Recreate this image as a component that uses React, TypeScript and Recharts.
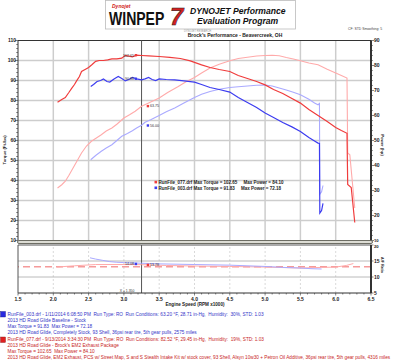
import React from "react";
import { ComposedChart, Line, XAxis, YAxis, ReferenceLine, ReferenceDot } from "recharts";

const RPM_TICKS = [1.5, 2.0, 2.5, 3.0, 3.5, 4.0, 4.5, 5.0, 5.5, 6.0, 6.5];
const TORQUE_TICKS = [10, 20, 30, 40, 50, 60, 70, 80, 90, 100, 110];
const POWER_TICKS = [10, 20, 30, 40, 50, 60, 70, 80, 90];
const AFR_TICKS = [5, 10, 15, 20];
const CURSOR_RPM = 3.25;
const AFR_TARGET = 13.2;

// Run 077 (red) - EM2 exhaust package
const run077Torque = [
  [2.06, 79.1], [2.12, 80.5], [2.17, 81.5], [2.22, 84], [2.26, 86.1], [2.3, 88], [2.33, 89.8], [2.37, 92],
  [2.4, 94.5], [2.45, 95.5], [2.5, 96.5], [2.55, 98], [2.6, 99.6], [2.65, 100], [2.71, 100], [2.77, 100.3],
  [2.83, 100.8], [2.9, 100.8], [2.97, 101.2], [3.02, 102.6], [3.07, 102.2], [3.12, 101.8], [3.18, 102.65],
  [3.25, 102.5], [3.35, 102.3], [3.5, 102], [3.65, 101.6], [3.8, 101], [3.94, 99.8], [4.1, 97.8], [4.22, 96.5],
  [4.35, 95.5], [4.5, 94.5], [4.62, 92.5], [4.75, 91], [4.88, 89.5], [5.0, 87.8], [5.12, 85.5], [5.25, 83.5],
  [5.38, 81], [5.5, 78.7], [5.62, 75.5], [5.75, 72.5], [5.88, 69.5], [6.0, 66.5], [6.08, 65], [6.16, 63.6],
  [6.17, 38], [6.22, 36.5], [6.27, 19],
];
const run077Power = [
  [2.06, 31.0], [2.12, 32.3], [2.17, 33.7], [2.22, 36], [2.28, 39], [2.34, 42], [2.4, 45], [2.47, 47.8],
  [2.54, 49.7], [2.61, 51], [2.68, 52.3], [2.75, 53.8], [2.83, 55], [2.9, 56.5], [3.0, 59], [3.08, 60.3],
  [3.16, 61.7], [3.25, 63.7], [3.35, 65], [3.5, 67], [3.62, 69.2], [3.77, 71.6], [3.88, 73.5], [4.0, 75.2],
  [4.1, 77], [4.22, 79], [4.35, 80.5], [4.5, 81.9], [4.62, 82.8], [4.75, 83.3], [4.88, 83.8], [5.0, 84],
  [5.1, 84.1], [5.2, 83.9], [5.3, 83.2], [5.4, 82.6], [5.5, 81.9], [5.62, 81], [5.75, 80.3], [5.88, 78.5],
  [6.0, 77], [6.08, 76], [6.16, 75], [6.17, 45], [6.2, 44.3], [6.27, 23],
];
// Run 003 (blue) - stock baseline
const run003Torque = [
  [2.53, 87], [2.57, 88], [2.62, 89.5], [2.67, 90], [2.71, 90.8], [2.76, 89.5], [2.8, 89.2], [2.86, 90.8],
  [2.92, 92], [2.97, 91], [3.02, 89.8], [3.07, 90.5], [3.12, 91.5], [3.18, 90.8], [3.25, 90.3], [3.3, 90.8],
  [3.35, 91.5], [3.4, 90.5], [3.45, 90], [3.5, 90.8], [3.6, 90.5], [3.72, 90.3], [3.85, 89.8], [4.0, 89.2],
  [4.1, 88], [4.22, 86.5], [4.35, 85.5], [4.5, 84.2], [4.62, 81.5], [4.75, 79], [4.88, 76.5], [5.0, 73.7],
  [5.12, 71.5], [5.25, 69], [5.38, 66.8], [5.5, 64.5], [5.62, 61.5], [5.7, 59.8], [5.75, 58.7], [5.77, 58.5],
  [5.775, 23.7], [5.8, 25], [5.82, 28.6],
];
const run003Power = [
  [2.53, 42.3], [2.6, 44], [2.68, 45.7], [2.75, 47], [2.83, 48.3], [2.9, 50], [2.97, 51.7], [3.05, 52.8],
  [3.12, 53.9], [3.18, 55], [3.25, 56.1], [3.3, 57.3], [3.38, 58.3], [3.45, 59.3], [3.5, 60], [3.6, 61.5],
  [3.72, 63], [3.85, 65], [4.0, 67.2], [4.1, 68.5], [4.22, 69.6], [4.35, 70.5], [4.5, 71.2], [4.62, 71.5],
  [4.75, 71.8], [4.88, 72.1], [5.0, 72.2], [5.1, 71.8], [5.2, 71], [5.3, 70.2], [5.4, 69.3], [5.5, 68.3],
  [5.62, 66.5], [5.7, 65], [5.75, 64.3], [5.77, 64.8], [5.775, 28.5], [5.8, 29.5], [5.82, 32],
];
const run003Afr = [
  [2.52, 16.0], [2.6, 15.6], [2.7, 15.2], [2.8, 14.8], [2.9, 14.6], [3.0, 14.5], [3.25, 14.3], [3.5, 14.1],
  [4.0, 13.9], [4.5, 13.7], [5.0, 13.3], [5.25, 13.0], [5.5, 12.8], [5.65, 12.6], [5.8, 12.5],
];
const run077Afr = [
  [2.05, 13.1], [2.3, 13.5], [2.6, 13.9], [3.0, 13.9], [3.25, 13.85], [3.6, 13.6], [4.08, 13.4], [4.5, 13.3],
  [5.02, 13.1], [5.5, 12.8], [5.8, 13.0], [6.0, 13.1], [6.15, 13.6], [6.25, 14.2],
];

const MARK_TORQUE_077 = 102.65;
const MARK_TORQUE_003 = 90.88;
const MARK_POWER_077 = 63.75;
const MARK_POWER_003 = 56.0;
const MARK_AFR_003 = 14.08;
const MARK_AFR_077 = 13.78;

const toRows = (arr: number[][]) => arr.map(([rpm, v]) => ({ rpm, v }));

const RED = "#f03c3c";
const PINK = "#ffaaaa";
const BLUE = "#3c3cf0";
const LIGHTBLUE = "#aaaaff";
const GRID = "#cdcdcd";
const FONT = "'Liberation Sans', Arial, sans-serif";

const minorTicks = (lo: number, hi: number, step: number) => {
  const out: number[] = [];
  for (let v = lo; v <= hi + 1e-9; v += step) out.push(Math.round(v * 100) / 100);
  return out;
};

const LeftTick = (props: any) => {
  const { x, y, payload } = props;
  const v = payload.value;
  const major = TORQUE_TICKS.includes(v);
  return (
    <g>
      <line x1={x - (major ? 3 : 1.8)} x2={x} y1={y} y2={y} stroke="#333" strokeWidth={0.6} />
      {major && (
        <text x={x - 2} y={y + (v === 10 ? 1.2 : 1.8)} textAnchor="end" fontSize={5} fontWeight="bold" fill="#222" fontFamily={FONT}>
          {v}
        </text>
      )}
    </g>
  );
};

const RightTick = (props: any) => {
  const { x, y, payload } = props;
  const v = payload.value;
  const major = POWER_TICKS.includes(v);
  return (
    <g>
      <line x1={x} x2={x + (major ? 3 : 1.8)} y1={y} y2={y} stroke="#333" strokeWidth={0.6} />
      {major && (
        <text x={x + 3} y={y + (v === 10 ? 1.0 : 1.8)} textAnchor="start" fontSize={v === 10 ? 4.2 : 5} fontWeight="bold" fill="#222" fontFamily={FONT}>
          {v}
        </text>
      )}
    </g>
  );
};

const AfrTick = (props: any) => {
  const { x, y, payload } = props;
  const v = payload.value;
  return (
    <g>
      <line x1={x} x2={x + 2.5} y1={y} y2={y} stroke="#333" strokeWidth={0.6} />
      <text x={x + 3} y={y + (v === 20 ? 3 : 1.8)} textAnchor="start" fontSize={v === 20 ? 4.2 : 5} fontWeight="bold" fill="#222" fontFamily={FONT}>
        {v}
      </text>
    </g>
  );
};

const BottomTick = (props: any) => {
  const { x, y, payload } = props;
  const v = payload.value;
  const major = RPM_TICKS.some((t) => Math.abs(t - v) < 1e-6);
  return (
    <g>
      <line x1={x} x2={x} y1={y} y2={y + (major ? 2.5 : 1.5)} stroke="#333" strokeWidth={0.6} />
      {major && (
        <text x={x} y={y + 8} textAnchor="middle" fontSize={5} fontWeight="bold" fill="#222" fontFamily={FONT}>
          {v.toFixed(1)}
        </text>
      )}
    </g>
  );
};

const squareMarker = (color: string, label: string, side: "left" | "right") => (p: any) => {
  const { cx, cy } = p;
  return (
    <g>
      <rect x={cx - 1.2} y={cy - 1.2} width={2.4} height={2.4} fill={color} />
      <text
        x={side === "left" ? cx - 2 : cx + 2}
        y={cy + 1.3}
        textAnchor={side === "left" ? "end" : "start"}
        fontSize={3.6}
        fill="#333"
        fontFamily={FONT}
      >
        {label}
      </text>
    </g>
  );
};

const lineProps = { type: "linear" as const, dataKey: "v", dot: false, isAnimationActive: false, activeDot: false };

export default function App() {
  const tqTicks = minorTicks(10, 110, 2);
  const hpTicks = minorTicks(10, 90, 2);
  const rpmMinor = minorTicks(1.5, 6.5, 0.1);
  const blueLines = [
    "RunFile_003.drf - 1/11/2014 6:08:50 PM  Run Type: RO  Run Conditions: 63.20 \u00B0F, 28.71 in-Hg,  Humidity:  30%, STD: 1.03",
    "2013 HD Road Glide Baseline - Stock",
    "Max Torque = 91.83  Max Power = 72.18",
    "2013 HD Road Glide, Completely Stock, 93 Shell, 36psi rear tire, 5th gear pulls, 2575 miles",
  ];
  const redLines = [
    "RunFile_077.drf - 9/13/2014 3:34:30 PM  Run Type: RO  Run Conditions: 82.52 \u00B0F, 29.45 in-Hg,  Humidity:  19%, STD: 1.03",
    "2013 HD Road Glide - Brock's EM2 Exhaust Package",
    "Max Torque = 102.65  Max Power = 84.10",
    "2013 HD Road Glide, EM2 Exhaust, PCS w/ Street Map, S and S Stealth Intake Kit w/ stock cover, 93 Shell, Alsyn 10w30 + Petron Oil Additive, 36psi rear tire, 5th gear pulls, 4316 miles",
  ];
  return (
    <div style={{ position: "absolute", left: 0, top: 0, width: 417, height: 361, background: "#fff", overflow: "hidden" }}>
      {/* Upper panel: torque & power */}
      <div style={{ position: "absolute", left: 0, top: 0 }}>
        <ComposedChart width={417} height={247} margin={{ top: 40.5, right: 0, bottom: 6.5, left: 0 }}>
          <XAxis type="number" dataKey="rpm" domain={[1.5, 6.5]} ticks={RPM_TICKS} hide allowDataOverflow />
          <YAxis
            yAxisId="tq"
            orientation="left"
            width={18}
            type="number"
            domain={[10, 110]}
            ticks={tqTicks}
            interval={0}
            tick={<LeftTick />}
            tickLine={false}
            tickSize={0}
            tickMargin={0}
            axisLine={{ stroke: "#333", strokeWidth: 1 }}
            allowDataOverflow
          />
          <YAxis
            yAxisId="hp"
            orientation="right"
            width={46}
            type="number"
            domain={[10, 90]}
            ticks={hpTicks}
            interval={0}
            tick={<RightTick />}
            tickLine={false}
            tickSize={0}
            tickMargin={0}
            axisLine={{ stroke: "#333", strokeWidth: 2 }}
            allowDataOverflow
          />
          {RPM_TICKS.slice(1, -1).map((t) => (
            <ReferenceLine key={"vx" + t} x={t} yAxisId="tq" stroke={GRID} strokeWidth={1.5} />
          ))}
          {TORQUE_TICKS.slice(1, -1).map((t) => (
            <ReferenceLine key={"hy" + t} y={t} yAxisId="tq" stroke={GRID} strokeWidth={1.5} />
          ))}
          <ReferenceLine y={110} yAxisId="tq" stroke="#333" strokeWidth={1.2} />
          <ReferenceLine x={CURSOR_RPM} yAxisId="tq" stroke="#555" strokeWidth={1} />
          <Line {...lineProps} yAxisId="hp" data={toRows(run077Power)} stroke={PINK} strokeWidth={1.1} />
          <Line {...lineProps} yAxisId="hp" data={toRows(run003Power)} stroke={LIGHTBLUE} strokeWidth={1.1} />
          <Line {...lineProps} yAxisId="tq" data={toRows(run077Torque)} stroke={RED} strokeWidth={1.2} />
          <Line {...lineProps} yAxisId="tq" data={toRows(run003Torque)} stroke={BLUE} strokeWidth={1.2} />
          <ReferenceDot x={3.17} y={MARK_TORQUE_077} yAxisId="tq" shape={squareMarker(RED, MARK_TORQUE_077.toFixed(2), "left")} />
          <ReferenceDot x={3.17} y={MARK_TORQUE_003} yAxisId="tq" shape={squareMarker(BLUE, MARK_TORQUE_003.toFixed(2), "left")} />
          <ReferenceDot x={3.34} y={MARK_POWER_077} yAxisId="hp" shape={squareMarker(RED, MARK_POWER_077.toFixed(2), "right")} />
          <ReferenceDot x={3.34} y={MARK_POWER_003} yAxisId="hp" shape={squareMarker(BLUE, MARK_POWER_003.toFixed(2), "right")} />
        </ComposedChart>
      </div>

      {/* panel divider */}
      <svg width={417} height={361} style={{ position: "absolute", left: 0, top: 0, pointerEvents: "none" }}>
        <rect x={17.5} y={240.5} width={355} height={3} rx={1.5} fill="#dcdcd4" stroke="#5f5f55" strokeWidth={0.9} />
      </svg>

      {/* Lower panel: A/F ratio */}
      <div style={{ position: "absolute", left: 0, top: 0 }}>
        <ComposedChart width={417} height={310} margin={{ top: 245, right: 0, bottom: 0, left: 0 }}>
          <XAxis
            type="number"
            dataKey="rpm"
            domain={[1.5, 6.5]}
            ticks={rpmMinor}
            interval={0}
            height={17}
            tick={<BottomTick />}
            tickLine={false}
            tickSize={0}
            tickMargin={0}
            axisLine={{ stroke: "#333", strokeWidth: 1 }}
            allowDataOverflow
          />
          <YAxis yAxisId="l" orientation="left" width={18} type="number" domain={[5, 20]} tick={false} tickLine={false} axisLine={{ stroke: "#555", strokeWidth: 1 }} />
          <YAxis
            yAxisId="afr"
            orientation="right"
            width={46}
            type="number"
            domain={[5, 20]}
            ticks={AFR_TICKS}
            interval={0}
            tick={<AfrTick />}
            tickLine={false}
            tickSize={0}
            tickMargin={0}
            axisLine={{ stroke: "#333", strokeWidth: 2 }}
            allowDataOverflow
          />
          {RPM_TICKS.slice(1, -1).map((t) => (
            <ReferenceLine key={"lv" + t} x={t} yAxisId="afr" stroke="#cfcfcf" strokeWidth={0.8} strokeDasharray="2 2" />
          ))}
          <ReferenceLine y={15} yAxisId="afr" stroke="#a8a8a8" strokeWidth={0.8} />
          <ReferenceLine y={10} yAxisId="afr" stroke="#a8a8a8" strokeWidth={0.8} />
          <ReferenceLine y={20} yAxisId="afr" stroke="#555" strokeWidth={1} />
          <ReferenceLine y={AFR_TARGET} yAxisId="afr" stroke="#f59a9a" strokeWidth={1.6} strokeDasharray="7 4" />
          <ReferenceLine x={CURSOR_RPM} yAxisId="afr" stroke="#555" strokeWidth={1} />
          <Line {...lineProps} yAxisId="afr" data={toRows(run077Afr)} stroke={PINK} strokeWidth={1} />
          <Line {...lineProps} yAxisId="afr" data={toRows(run003Afr)} stroke={LIGHTBLUE} strokeWidth={1} />
          <ReferenceDot x={3.17} y={MARK_AFR_003} yAxisId="afr" shape={squareMarker(BLUE, MARK_AFR_003.toFixed(2), "left")} />
          <ReferenceDot x={3.34} y={MARK_AFR_077} yAxisId="afr" shape={squareMarker(RED, MARK_AFR_077.toFixed(2), "right")} />
        </ComposedChart>
      </div>

      {/* Text and header */}
      <svg width={417} height={361} style={{ position: "absolute", left: 0, top: 0, pointerEvents: "none" }} fontFamily={FONT}>
        <rect x={105.5} y={0.5} width={190} height={28.5} fill="#fff" stroke="#bbb" strokeWidth={0.8} />
        <text x={112} y={7.5} fontSize={5} fontStyle="italic" fontWeight="bold" fill="#d01818">Dynojet</text>
        <text transform="translate(109,25) scale(0.78,1)" fontSize={18} fontWeight="900" fill="#111">WINPEP</text>
        <text x={170} y={25} fontSize={24} fontWeight="900" fontStyle="italic" fill="#d42020" stroke="#222" strokeWidth={0.5}>7</text>
        <text x={190} y={13.5} fontSize={8.6} fontWeight="bold" fontStyle="italic" fill="#111">DYNOJET Performance</text>
        <text x={197} y={23.5} fontSize={8.6} fontWeight="bold" fontStyle="italic" fill="#111">Evaluation Program</text>
        <text x={184} y={31.5} fontSize={2.6} fill="#999">DYNOJET RESEARCH</text>
        <text x={348} y={29.5} fontSize={3.4} fill="#444">CF: STD  Smoothing: 5</text>
        <text x={235} y={36.5} fontSize={5} fontWeight="bold" textAnchor="middle" fill="#222">Brock's Performance - Beavercreek, OH</text>

        <text transform="translate(5.5,150) rotate(-90)" fontSize={4.2} fontWeight="bold" textAnchor="middle" fill="#222">Torque (Ft-lbs)</text>
        <text transform="translate(381,145) rotate(90)" fontSize={4.2} fontWeight="bold" textAnchor="middle" fill="#222">Power (hp)</text>
        <text transform="translate(381,265) rotate(90)" fontSize={3.6} fontWeight="bold" textAnchor="middle" fill="#222">A/F Ratio</text>
        <text x={195} y={305.5} fontSize={4.6} fontWeight="bold" textAnchor="middle" fill="#222">Engine Speed (RPM x1000)</text>

        <rect x={154.5} y={180.8} width={2.6} height={2.6} fill={RED} />
        <rect x={154.5} y={186.5} width={2.6} height={2.6} fill={BLUE} />
        <text x={158.5} y={184} fontSize={4.5} fontWeight="bold" fill="#222" xmlSpace="preserve">RunFile_077.drf Max Torque = 102.65     Max Power = 84.10</text>
        <text x={158.5} y={189.7} fontSize={4.5} fontWeight="bold" fill="#222" xmlSpace="preserve">RunFile_003.drf Max Torque = 91.83     Max Power = 72.18</text>

        <text x={127} y={291.5} fontSize={3.4} textAnchor="middle" fill="#333">X = 1.350</text>

        <rect x={0.5} y={311.5} width={5} height={5.5} fill="#2828e0" stroke="#1a1a80" strokeWidth={0.4} />
        {blueLines.map((t, i) => (
          <text key={"b" + i} x={7.5} y={315.6 + i * 6} fontSize={4.7} fill="#3535c8" xmlSpace="preserve">{t}</text>
        ))}
        <rect x={0.5} y={337} width={5} height={5.5} fill="#e02020" stroke="#801a1a" strokeWidth={0.4} />
        {redLines.map((t, i) => (
          <text key={"r" + i} x={7.5} y={341.4 + i * 6} fontSize={4.7} fill="#c81e1e" xmlSpace="preserve">{t}</text>
        ))}
      </svg>
    </div>
  );
}
